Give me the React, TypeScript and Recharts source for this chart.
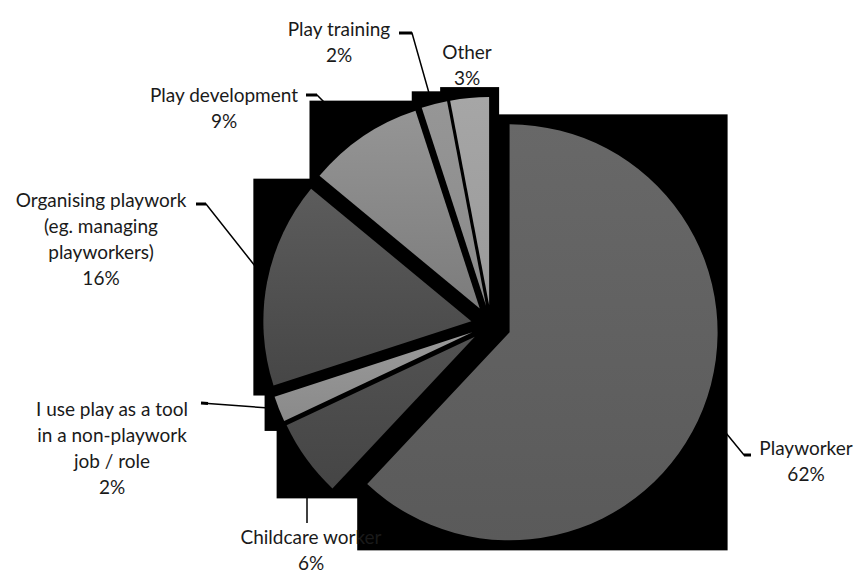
import React from "react";
import { PieChart, Pie, Cell, Sector } from "recharts";

// survey answers, clockwise from 12 o'clock
const categories = [
  "Playworker",
  "Childcare worker",
  "I use play as a tool in a non-playwork job / role",
  "Organising playwork (eg. managing playworkers)",
  "Play development",
  "Play training",
  "Other",
];
const labelLines = [
  ["Playworker"],
  ["Childcare worker"],
  ["I use play as a tool", "in a non-playwork", "job / role"],
  ["Organising playwork", "(eg. managing", "playworkers)"],
  ["Play development"],
  ["Play training"],
  ["Other"],
];
const shares = [62, 6, 2, 16, 9, 2, 3];

const data = categories.map((name, i) => ({ name, value: shares[i] }));

// greys, top -> bottom of each slice
const sliceColors = [
  ["#686868", "#5a5a5a"],
  ["#525252", "#454545"],
  ["#9a9a9a", "#8a8a8a"],
  ["#5c5c5c", "#464646"],
  ["#959595", "#7c7c7c"],
  ["#969696", "#8a8a8a"],
  ["#a6a6a6", "#9a9a9a"],
];

// label placement relative to pie centre: text centre + leader polyline
const labelLayout = [
  { x: 315, y: 122, line: [[260, 130], [253, 130], [235, 108]] },
  { x: -180, y: 211, line: [[-184, 198], [-184, 172]] },
  { x: -379, y: 83, line: [[-290, 78], [-283, 78.5], [-222, 83]] },
  { x: -390, y: -126, line: [[-295, -121], [-285, -121], [-236, -59]] },
  { x: -267, y: -231, line: [[-185, -230], [-174, -230], [-164, -220]] },
  { x: -152, y: -297, line: [[-92, -292], [-79, -292], [-62, -232]] },
  { x: -24, y: -274, line: [] },
];

const RAD = Math.PI / 180;
const EXPLODE = 20;
const PAD = 10;
const LINE_H = 26;
const FONT = "Lato, 'Open Sans', sans-serif";

const shifted = (p: any) => {
  const a = -p.midAngle * RAD;
  return { x: p.cx + EXPLODE * Math.cos(a), y: p.cy + EXPLODE * Math.sin(a) };
};

const SliceShape = (props: any) => {
  const c = shifted(props);
  return (
    <Sector
      cx={c.x}
      cy={c.y}
      innerRadius={0}
      outerRadius={props.outerRadius}
      startAngle={props.startAngle}
      endAngle={props.endAngle}
      fill={props.fill}
      stroke="none"
    />
  );
};

// black bounding box behind every slice (Excel shadow artefact)
const BoxShape = (props: any) => {
  const c = shifted(props);
  const r = props.outerRadius;
  const s = Math.min(props.startAngle, props.endAngle);
  const e = Math.max(props.startAngle, props.endAngle);
  const angles = [s, e];
  for (let k = Math.ceil(s / 90); k <= Math.floor(e / 90); k++) angles.push(k * 90);
  const xs = [c.x];
  const ys = [c.y];
  angles.forEach((a) => {
    xs.push(c.x + r * Math.cos(-a * RAD));
    ys.push(c.y + r * Math.sin(-a * RAD));
  });
  const x0 = Math.min(...xs) - PAD;
  const y0 = Math.min(...ys) - PAD;
  const x1 = Math.max(...xs) + PAD;
  const y1 = Math.max(...ys) + PAD;
  return <rect x={x0} y={y0} width={x1 - x0} height={y1 - y0} fill="#000" />;
};

const renderLabel = (props: any) => {
  const { cx, cy, index, value } = props;
  const lay = labelLayout[index];
  const lines = [...labelLines[index], `${value}%`];
  const pts = lay.line.map(([x, y]) => [cx + x, cy + y]);
  return (
    <g key={`lbl-${index}`}>
      {pts.length > 1 && (
        <polyline
          points={pts.map((p) => p.join(",")).join(" ")}
          fill="none"
          stroke="#000"
          strokeWidth={1.5}
        />
      )}
      {pts.length > 2 && (
        <line
          x1={pts[0][0]}
          y1={pts[0][1]}
          x2={pts[1][0]}
          y2={pts[1][1]}
          stroke="#000"
          strokeWidth={3}
        />
      )}
      <text
        x={cx + lay.x}
        y={cy + lay.y}
        textAnchor="middle"
        fill="#1a1a1a"
        style={{ fontFamily: FONT, fontSize: 19 }}
      >
        {lines.map((t, i) => (
          <tspan key={i} x={cx + lay.x} y={cy + lay.y + i * LINE_H} dominantBaseline="central">
            {t}
          </tspan>
        ))}
      </text>
    </g>
  );
};

export default function App() {
  return (
    <div style={{ position: "absolute", left: 0, top: 0, width: 860, height: 572, background: "#fff" }}>
      <PieChart width={860} height={572} margin={{ top: 0, right: 0, bottom: 0, left: 0 }}>
        <defs>
          {sliceColors.map(([top, bottom], i) => (
            <linearGradient key={i} id={`slice-${i}`} x1="0" y1="0" x2="0" y2="1">
              <stop offset="0%" stopColor={top} />
              <stop offset="100%" stopColor={bottom} />
            </linearGradient>
          ))}
        </defs>
        <Pie
          data={data}
          dataKey="value"
          nameKey="name"
          cx={491}
          cy={325}
          outerRadius={208}
          startAngle={90}
          endAngle={-270}
          fill="none"
          stroke="none"
          label={renderLabel}
          labelLine={false}
          isAnimationActive={false}
        />
        <Pie
          data={data}
          dataKey="value"
          cx={491}
          cy={325}
          outerRadius={208}
          startAngle={90}
          endAngle={-270}
          stroke="none"
          shape={BoxShape}
          isAnimationActive={false}
        />
        <Pie
          data={data}
          dataKey="value"
          cx={491}
          cy={325}
          outerRadius={208}
          startAngle={90}
          endAngle={-270}
          stroke="none"
          shape={SliceShape}
          isAnimationActive={false}
        >
          {data.map((d, i) => (
            <Cell key={d.name} fill={`url(#slice-${i})`} />
          ))}
        </Pie>
      </PieChart>
    </div>
  );
}
